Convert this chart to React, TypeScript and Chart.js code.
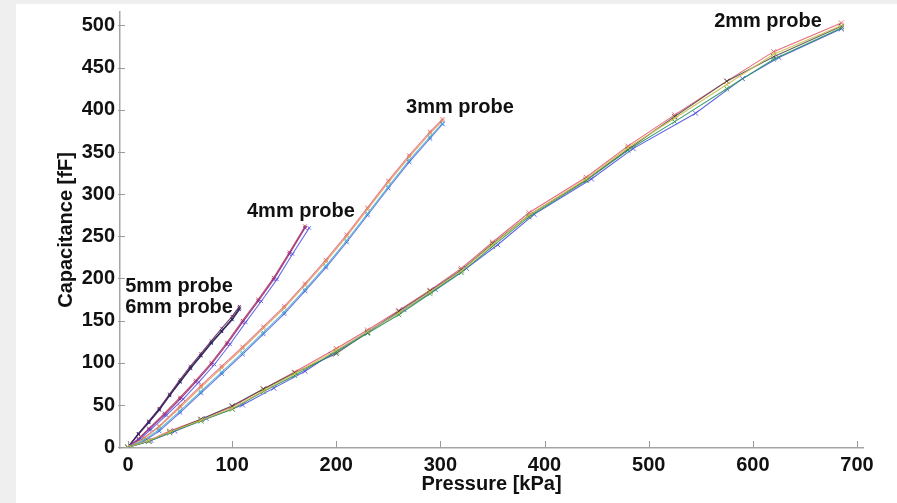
import React, { useEffect, useRef } from "react";
import { Chart, registerables } from "chart.js";

Chart.register(...registerables);

// ---- axis ticks ----
const xTicks = [0, 100, 200, 300, 400, 500, 600, 700];
const yTicks = [0, 50, 100, 150, 200, 250, 300, 350, 400, 450, 500];

// ---- 2mm probe runs ----
const p2xA = [0, 20, 40, 70, 100, 130, 160, 200, 230, 260, 290, 320, 350, 385, 440, 480, 525, 575, 620, 685];
const p2Red = [0, 8, 19, 33, 48, 69, 89, 117, 139, 162, 186, 212, 243, 278, 320, 357, 394, 434, 469, 503];
const p2Green = [0, 7, 17, 31, 45, 66, 85, 113, 135, 157, 182, 207, 238, 273, 316, 352, 386, 425, 460, 497];
const p2xB = [0, 22, 45, 75, 110, 140, 170, 195, 230, 265, 295, 325, 355, 390, 445, 485, 545, 590, 625, 685];
const p2Blue = [0, 8, 19, 34, 50, 70, 90, 110, 137, 163, 187, 212, 240, 276, 318, 354, 396, 437, 462, 496];
const p2Black = [0, 7, 18, 33, 49, 69, 88, 111, 136, 161, 185, 210, 241, 275, 317, 353, 392, 434, 463, 499];
const p2Yellow = [0, 8, 18, 32, 46, 67, 87, 115, 137, 159, 184, 209, 240, 275, 318, 355, 390, 430, 466, 500];

// ---- 3mm probe runs ----
const p3x = [0, 15, 30, 50, 70, 90, 110, 130, 150, 170, 190, 210, 230, 250, 270, 290, 302];
const p3Orange = [0, 10, 24, 47, 71, 94, 117, 141, 165, 192, 220, 250, 282, 314, 344, 372, 387];
const p3Cyan = [0, 8, 21, 43, 66, 89, 112, 136, 160, 187, 215, 245, 277, 309, 340, 368, 384];
const p3Red = [0, 11, 25, 49, 73, 96, 119, 143, 167, 194, 222, 252, 284, 316, 346, 374, 389];
const p3Blue = [0, 7, 19, 41, 64, 87, 110, 134, 158, 185, 213, 243, 275, 307, 338, 366, 383];

// ---- 4mm probe runs ----
const p4x = [0, 10, 20, 35, 50, 65, 80, 95, 110, 125, 140, 155, 170];
const p4Purple = [0, 9, 21, 38, 57, 77, 98, 122, 148, 173, 199, 229, 260];
const p4Red = [0, 10, 22, 40, 59, 79, 100, 124, 150, 175, 201, 231, 262];
const p4xB = [0, 11, 22, 37, 53, 68, 83, 98, 113, 128, 143, 158, 174];
const p4Blue = [0, 9, 21, 38, 57, 77, 98, 122, 148, 173, 199, 229, 260];

// ---- 5mm / 6mm probe runs ----
const p56x = [0, 10, 20, 30, 40, 50, 60, 70, 80, 90, 100, 107];
const p6Black = [0, 16, 30, 45, 62, 78, 94, 109, 124, 138, 152, 165];
const p5Purple = [0, 16, 31, 46, 63, 80, 96, 111, 126, 141, 155, 167];
const p6Navy = [0, 15, 29, 44, 61, 77, 93, 108, 123, 137, 151, 163];

// ---- annotations ----
const probeLabels = ["2mm probe", "3mm probe", "4mm probe", "5mm probe", "6mm probe"];
const labelX = [614.6, 318.8, 166, 49, 49];
const labelY = [504.4, 402.4, 280, 190, 166];

const runs = [
  { x: p2xA, y: p2Yellow, color: "rgba(205,190,70,0.9)", r: 3.5 },
  { x: p2xA, y: p2Green, color: "rgba(40,150,100,0.9)", r: 3.5 },
  { x: p2xB, y: p2Blue, color: "rgba(80,80,225,0.9)", r: 3.5 },
  { x: p2xA, y: p2Black, color: "rgba(60,60,60,0.8)", r: 3.5 },
  { x: p2xA, y: p2Red, color: "rgba(230,90,110,0.9)", r: 3.5 },
  { x: p3x, y: p3Cyan, color: "rgba(60,180,200,0.85)", r: 3 },
  { x: p3x, y: p3Blue, color: "rgba(90,90,230,0.85)", r: 3 },
  { x: p3x, y: p3Orange, color: "rgba(225,150,90,0.85)", r: 3 },
  { x: p3x, y: p3Red, color: "rgba(225,90,110,0.8)", r: 3 },
  { x: p4xB, y: p4Blue, color: "rgba(80,80,230,0.85)", r: 2.5 },
  { x: p4x, y: p4Purple, color: "rgba(140,50,140,0.95)", r: 2.5 },
  { x: p4x, y: p4Red, color: "rgba(190,50,80,0.9)", r: 2.5 },
  { x: p56x, y: p6Navy, color: "rgba(40,40,110,0.95)", r: 2 },
  { x: p56x, y: p5Purple, color: "rgba(110,40,100,0.95)", r: 2 },
  { x: p56x, y: p6Black, color: "rgba(30,30,30,0.95)", r: 2 },
];

const FONT = "'Liberation Sans', Arial, Helvetica, sans-serif";

const overlayPlugin = {
  id: "overlay",
  afterDatasetsDraw(chart: any) {
    const { ctx, scales } = chart;
    const xs = scales.x;
    const ys = scales.y;
    ctx.save();
    // inward tick marks
    ctx.strokeStyle = "#9a9a9a";
    ctx.lineWidth = 1;
    xTicks.forEach((v) => {
      const px = Math.round(xs.getPixelForValue(v)) + 0.5;
      ctx.beginPath();
      ctx.moveTo(px, ys.bottom);
      ctx.lineTo(px, ys.bottom - 7);
      ctx.stroke();
    });
    yTicks.forEach((v) => {
      const py = Math.round(ys.getPixelForValue(v)) + 0.5;
      ctx.beginPath();
      ctx.moveTo(xs.left - 2, py);
      ctx.lineTo(xs.left + 5, py);
      ctx.stroke();
    });
    // probe labels
    ctx.fillStyle = "#111";
    ctx.font = `bold 20px ${FONT}`;
    ctx.textAlign = "center";
    ctx.textBaseline = "middle";
    probeLabels.forEach((t, i) => {
      ctx.fillText(t, xs.getPixelForValue(labelX[i]), ys.getPixelForValue(labelY[i]));
    });
    ctx.restore();
  },
};

export default function App() {
  const ref = useRef<HTMLCanvasElement>(null);
  useEffect(() => {
    const canvas = ref.current;
    if (!canvas) return;
    const datasets = runs.map((r) => ({
      data: r.x.map((xv, i) => ({ x: xv, y: r.y[i] })),
      borderColor: r.color,
      backgroundColor: r.color,
      borderWidth: 1.1,
      pointStyle: "crossRot",
      pointRadius: r.r,
      pointBorderWidth: 1,
      pointBorderColor: r.color,
      showLine: true,
      tension: 0,
    }));
    const chart = new Chart(canvas, {
      type: "scatter",
      data: { datasets },
      options: {
        animation: false,
        responsive: false,
        layout: { autoPadding: false, padding: { top: 8, right: 34, left: 0, bottom: 0 } },
        plugins: { legend: { display: false }, tooltip: { enabled: false } },
        scales: {
          x: {
            type: "linear",
            min: -7.7,
            max: 705.8,
            grid: { display: false, drawTicks: false },
            border: { display: true, color: "#a5a5a5", width: 1.5 },
            afterBuildTicks: (s: any) => {
              s.ticks = xTicks.map((v) => ({ value: v }));
            },
            afterFit: (s: any) => {
              s.height = 55;
              s.paddingLeft = 0;
              s.paddingRight = 0;
            },
            ticks: {
              padding: 5,
              color: "#111",
              font: { family: FONT, size: 20, weight: "bold" },
              maxRotation: 0,
              autoSkip: false,
            },
            title: {
              display: true,
              text: "Pressure [kPa]",
              color: "#111",
              font: { family: FONT, size: 20, weight: "bold" },
              padding: { top: 0, bottom: 7 },
            },
          },
          y: {
            type: "linear",
            min: -1,
            max: 516,
            grid: { display: false, drawTicks: false },
            border: { display: true, color: "#a5a5a5", width: 1.5 },
            afterBuildTicks: (s: any) => {
              s.ticks = yTicks.map((v) => ({ value: v }));
            },
            afterFit: (s: any) => {
              s.width = 104;
              s.paddingTop = 0;
              s.paddingBottom = 0;
            },
            ticks: {
              padding: 5,
              color: "#111",
              font: { family: FONT, size: 20, weight: "bold" },
              autoSkip: false,
            },
            title: {
              display: true,
              text: "Capacitance [fF]",
              color: "#111",
              font: { family: FONT, size: 20, weight: "bold" },
              padding: { top: 38, bottom: 0 },
            },
          },
        },
      },
      plugins: [overlayPlugin],
    } as any);
    return () => chart.destroy();
  }, []);

  return (
    <div
      style={{
        position: "fixed",
        left: 0,
        top: 0,
        width: 897,
        height: 503,
        background: "#efefef",
        overflow: "hidden",
      }}
    >
      <div
        style={{
          position: "absolute",
          left: 16,
          top: 4,
          width: 881,
          height: 499,
          background: "#ffffff",
        }}
      >
        <canvas ref={ref} width={881} height={499} style={{ display: "block" }} />
      </div>
    </div>
  );
}
